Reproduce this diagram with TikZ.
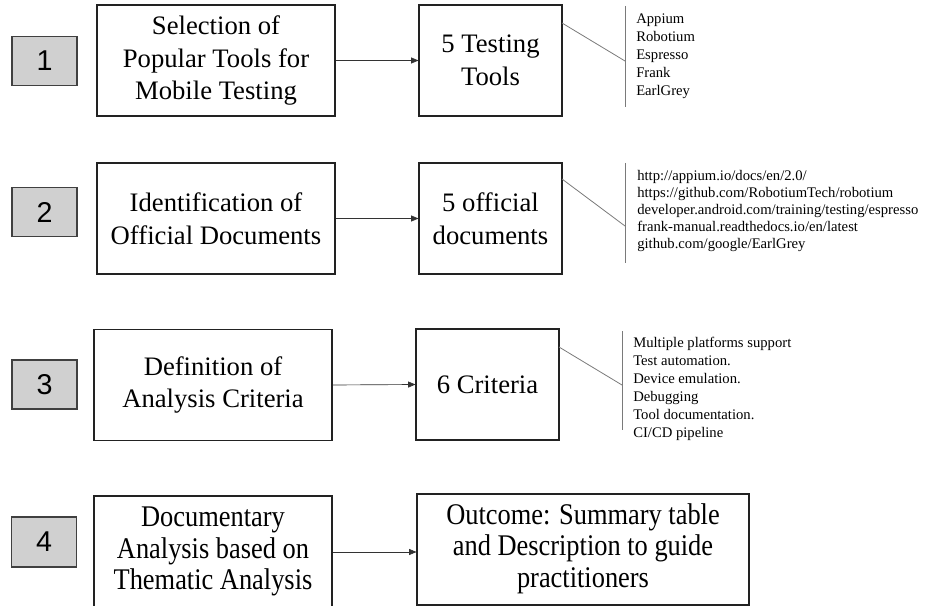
\documentclass[tikz,border=0pt]{standalone}
\usepackage{fontspec}
\setmainfont{Liberation Serif}
\newfontfamily\numfont{Liberation Sans}
\usetikzlibrary{arrows.meta}
\definecolor{boxline}{HTML}{222222}
\definecolor{numfill}{HTML}{D0D0D0}
\definecolor{brk}{HTML}{7A7A7A}
\tikzset{
  stepbox/.style={draw=boxline, line width=0.8pt, fill=white, inner sep=0pt, align=center,
    font=\fontsize{20}{24.5}\selectfont, minimum height=83.25pt},
  bigbox/.style={stepbox, minimum width=178.5pt},
  smallbox/.style={stepbox, minimum width=107.25pt},
  numbox/.style={draw=black!75, fill=numfill, line width=1pt, inner sep=0pt,
    minimum width=48.75pt, minimum height=36.75pt, font=\numfont\fontsize{21.5}{24}\selectfont},
  arr/.style={draw=black!80, line width=0.5pt, -{Triangle[length=5.5pt,width=4.5pt]}},
  brline/.style={draw=brk, line width=0.6pt},
  listtext/.style={anchor=west, inner sep=0pt, align=left, font=\fontsize{11}{13.5}\selectfont}
}
\newcommand{\squeezed}[1]{\raisebox{-3pt}{\scalebox{0.88}[1]{\fontsize{22.5}{23.5}\selectfont\renewcommand{\arraystretch}{1}\begin{tabular}{@{}c@{}}#1\end{tabular}}}}
\begin{document}
\begin{tikzpicture}[x=0.75pt, y=-0.75pt]
\useasboundingbox (0,0) rectangle (932,606);

% Row 1
\node[numbox] (n1) at (44.5,61) {1};
\node[bigbox] (b1) at (216,60.5) {Selection of\\Popular Tools for\\Mobile Testing};
\node[smallbox] (s1) at (490.5,60.5) {5 Testing\\Tools};
\draw[arr] (b1.east) -- (s1.west);
\coordinate (t1) at (625,6);
\coordinate (m1) at (625,61);
\coordinate (u1) at (625,107);
\coordinate (d1) at (562,23);
\draw[brline] (t1) -- (u1);
\draw[brline] (d1) -- (m1);
\node[listtext] (l1) at (636,56.5) {Appium\\Robotium\\Espresso\\Frank\\EarlGrey};

% Row 2
\node[numbox] (n2) at (44.5,212) {2};
\node[bigbox] (b2) at (216,218.5) {Identification of\\Official Documents};
\node[smallbox] (s2) at (490.5,218.5) {5 official\\documents};
\draw[arr] (b2.east) -- (s2.west);
\coordinate (t2) at (625,163);
\coordinate (m2) at (625,226);
\coordinate (u2) at (625,263);
\coordinate (d2) at (562,179);
\draw[brline] (t2) -- (u2);
\draw[brline] (d2) -- (m2);
\node[listtext, font=\fontsize{11}{12.6}\selectfont] (l2) at (637,211) {http://appium.io/docs/en/2.0/\\https://github.com/RobotiumTech/robotium\\developer.android.com/training/testing/espresso\\frank-manual.readthedocs.io/en/latest\\github.com/google/EarlGrey};

% Row 3
\node[numbox] (n3) at (44.5,384.5) {3};
\node[bigbox] (b3) at (213,385) {Definition of\\Analysis Criteria};
\node[smallbox] (s3) at (487.5,384.5) {6 Criteria};
\draw[arr] (b3.east) -- (s3.west);
\coordinate (t3) at (622,331);
\coordinate (m3) at (622,385);
\coordinate (u3) at (622,430);
\coordinate (d3) at (559,347);
\draw[brline] (t3) -- (u3);
\draw[brline] (d3) -- (m3);
\node[listtext] (l3) at (633,389) {Multiple platforms support\\Test automation.\\Device emulation.\\Debugging\\Tool documentation.\\CI/CD pipeline};

% Row 4
\node[numbox, minimum height=37.5pt] (n4) at (44,542) {4};
\node[bigbox, minimum height=84pt] (b4) at (213,552) {\squeezed{Documentary\\Analysis based on\\Thematic Analysis}};
\node[stepbox, minimum width=249pt] (o4) at (583,549.5) {\squeezed{Outcome: Summary table\\and Description to guide\\practitioners}};
\draw[arr] (b4.east) -- (b4.east -| o4.west);
\end{tikzpicture}
\end{document}
